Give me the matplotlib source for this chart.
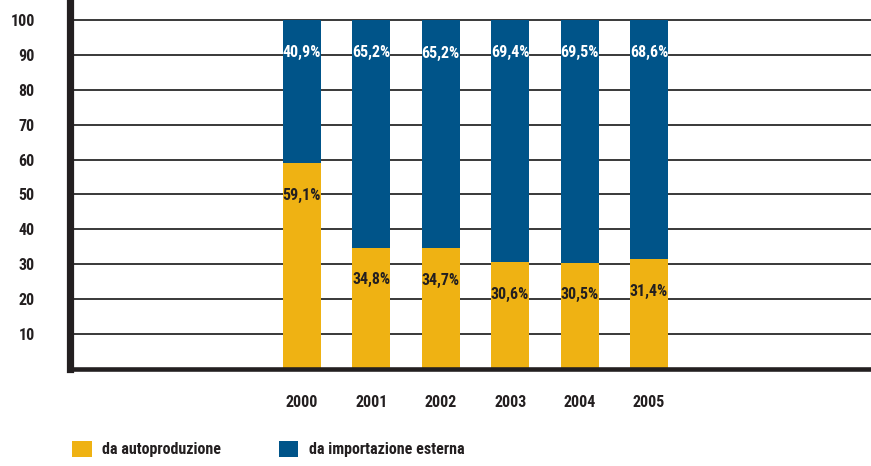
import matplotlib
matplotlib.use("Agg")
import matplotlib.pyplot as plt
from matplotlib import font_manager as fm
from matplotlib.patches import Patch
import numpy as np

years = ["2000", "2001", "2002", "2003", "2004", "2005"]
autoproduzione = [59.1, 34.8, 34.7, 30.6, 30.5, 31.4]
importazione = [40.9, 65.2, 65.2, 69.4, 69.5, 68.6]
auto_labels = ["59,1%", "34,8%", "34,7%", "30,6%", "30,5%", "31,4%"]
imp_labels = ["40,9%", "65,2%", "65,2%", "69,4%", "69,5%", "68,6%"]
yticks = [10, 20, 30, 40, 50, 60, 70, 80, 90, 100]
series_names = ["da autoproduzione", "da importazione esterna"]

# pick a condensed bold face if one is installed
_bold = {}
for f in fm.fontManager.ttflist:
    try:
        wt = int(f.weight)
    except Exception:
        wt = 700 if "bold" in str(f.weight) else 400
    if wt >= 700:
        _bold[f.name] = True
FONT = "DejaVu Sans"
for cand in ["Roboto Condensed", "PT Sans Narrow", "Archivo Narrow", "IBM Plex Sans Condensed",
             "Liberation Sans Narrow", "Open Sans Condensed", "Encode Sans Condensed"]:
    if cand in _bold:
        FONT = cand
        break
plt.rcParams['font.family'] = [FONT, 'DejaVu Sans']
plt.rcParams['font.weight'] = 'bold'

YELLOW = "#EFB213"
BLUE = "#005489"
DARK = "#231F20"

fig = plt.figure(figsize=(8.71, 4.66), dpi=100)
ax = fig.add_axes([69.5 / 871, 97 / 466, 1 - 69.5 / 871, 369 / 466])

x = np.arange(len(years))
w = 0.548
ax.bar(x, autoproduzione, width=w, color=YELLOW, zorder=3)
ax.bar(x, importazione, width=w, bottom=autoproduzione, color=BLUE, zorder=3)

fs = 11.5
for xi, a, b, la, lb in zip(x, autoproduzione, importazione, auto_labels, imp_labels):
    ax.text(xi, a - 9.3, la, ha="center", va="center", color=DARK,
            fontsize=fs, fontweight="bold", zorder=4)
    ax.text(xi, a + b - 9.4, lb, ha="center", va="center", color="white",
            fontsize=fs, fontweight="bold", zorder=4)

ax.set_xlim(-3.35, 8.2)
ax.set_ylim(0, 105.7)
ax.set_yticks(yticks)
ax.set_yticklabels([str(t) for t in yticks])
ax.set_xticks(x)
ax.set_xticklabels(years)
ax.tick_params(axis="y", length=0, pad=25, labelsize=fs, labelcolor=DARK)
ax.tick_params(axis="x", length=0, pad=19, labelsize=fs, labelcolor=DARK)
for lab in ax.get_xticklabels() + ax.get_yticklabels():
    lab.set_fontweight("bold")

ax.yaxis.grid(True, color="#2a2a2a", linewidth=1.3, zorder=1)
ax.set_axisbelow(True)

for s in ["top", "right"]:
    ax.spines[s].set_visible(False)
ax.spines["left"].set_linewidth(5.2)
ax.spines["left"].set_color(DARK)
ax.spines["bottom"].set_linewidth(3.3)
ax.spines["bottom"].set_color(DARK)
ax.spines["left"].set_zorder(5)
ax.spines["bottom"].set_zorder(5)

handles = [Patch(facecolor=YELLOW, edgecolor="none"), Patch(facecolor=BLUE, edgecolor="none")]
leg = fig.legend(handles, series_names, loc="center left",
                 bbox_to_anchor=(66 / 871, 1 - 449 / 466), ncol=2, frameon=False,
                 fontsize=fs, handlelength=1.2, handleheight=1.2,
                 handletextpad=0.68, columnspacing=3.6, borderaxespad=0)
for t in leg.get_texts():
    t.set_color(DARK)
    t.set_fontweight("bold")

fig.savefig("out.png", dpi=100)
